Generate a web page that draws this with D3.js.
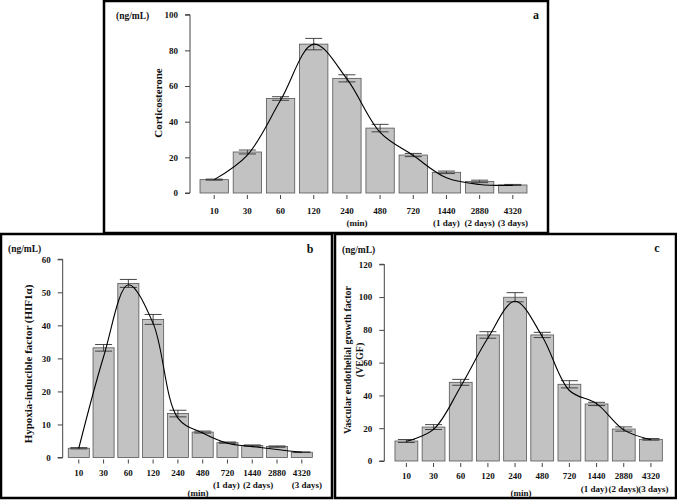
<!DOCTYPE html>
<html><head><meta charset="utf-8">
<script src="https://cdn.jsdelivr.net/npm/d3@7"></script>
<style>
body{margin:0;background:#fff;}
text{font-family:"Liberation Serif","Times New Roman",serif;font-weight:bold;fill:#111;}
</style></head>
<body><svg id="chart" width="677" height="500"></svg>
<script>
// ---- data ----
const categories = ["10","30","60","120","240","480","720","1440","2880","4320"];
const subLabels  = ["","","","","","","","(1 day)","(2 days)","(3 days)"];

const corticoMean = [7.5, 23, 53, 83.5, 64.3, 36.4, 21.3, 11.6, 6.5, 4.5];
const corticoErr  = [0.3, 1.1, 1.0, 3.2, 2.0, 2.1, 0.9, 0.7, 0.7, 0.3];
const corticoFit  = [7.5, 21.3, 52, 83.5, 64, 34, 21, 8.5, 4.8, 4.3];
const corticoTicks = [0, 20, 40, 60, 80, 100];

const hifMean = [2.8, 33.2, 52.7, 41.8, 13.3, 7.7, 4.5, 3.6, 3.3, 1.6];
const hifErr  = [0.2, 1.0, 1.2, 1.5, 1.0, 0.3, 0.2, 0.2, 0.2, 0.1];
const hifFit  = [2.8, 30.5, 52.3, 40.6, 11.9, 7.4, 4.3, 3.3, 2.4, 1.6];
const hifTicks = [0, 10, 20, 30, 40, 50, 60];

const vegfMean = [12.2, 20.7, 48, 76.9, 99.9, 76.9, 46.8, 34.8, 19.5, 13.2];
const vegfErr  = [0.9, 1.5, 1.8, 2.0, 2.8, 1.6, 2.2, 1.0, 1.3, 0.5];
const vegfFit  = [12, 19.3, 45.5, 75, 97.5, 76, 43, 35, 19, 13];
const vegfTicks = [0, 20, 40, 60, 80, 100, 120];

const svg = d3.select("#chart");
const TICK_FS = 9;

function drawPanel(p) {
  const g = svg.append("g");
  g.append("rect").attr("x", p.frame[0]).attr("y", p.frame[1])
    .attr("width", p.frame[2]-p.frame[0]).attr("height", p.frame[3]-p.frame[1])
    .attr("fill", "none").attr("stroke", "#000").attr("stroke-width", 2.5);

  const x = d3.scaleBand().domain(categories).range(p.xRange)
    .paddingInner(p.pad).paddingOuter(p.pad/2);
  const y = d3.scaleLinear().domain([0, p.ticks[p.ticks.length-1]]).range(p.yRange);

  const ya = g.append("g").attr("transform", `translate(${p.axisX},0)`)
    .call(d3.axisLeft(y).tickValues(p.ticks).tickSize(5).tickPadding(7));
  ya.select(".domain").attr("stroke", "#444").attr("d", `M-5,${y(0)}H0V${y(p.ticks[p.ticks.length-1])}H-5`);
  ya.selectAll(".tick line").attr("stroke", "#444");
  ya.selectAll(".tick text").attr("font-size", TICK_FS).style("font-family","Liberation Serif").style("font-weight","bold").attr("fill","#111");

  const data = categories.map((c,i)=>({c, i, m:p.mean[i], e:p.err[i], f:p.fit[i], s:subLabels[i]}));
  const cx = d => x(d.c) + x.bandwidth()/2;

  g.selectAll(".bar").data(data).join("rect")
    .attr("x", d=>x(d.c)).attr("width", x.bandwidth())
    .attr("y", d=>y(d.m)).attr("height", d=>y(0)-y(d.m))
    .attr("fill", "#c2c2c2").attr("stroke", "#555").attr("stroke-width", 0.8);

  const cap = 8.5;
  const eg = g.append("g").attr("stroke", "#333").attr("stroke-width", 0.9).attr("fill","none");
  data.forEach(d=>{
    const c = cx(d);
    eg.append("path").attr("d",
      `M${c},${y(d.m+d.e)}V${y(d.m-d.e)}M${c-cap},${y(d.m+d.e)}H${c+cap}M${c-cap},${y(d.m-d.e)}H${c+cap}`);
  });

  const base = y(0);
  g.selectAll(".xt").data(data).join("line")
    .attr("x1", cx).attr("x2", cx)
    .attr("y1", base+2).attr("y2", base+6).attr("stroke", "#444");
  g.selectAll(".xl").data(data).join("text")
    .attr("x", cx).attr("y", p.lab1)
    .attr("text-anchor","middle").attr("font-size", TICK_FS).text(d=>d.c);
  g.selectAll(".xl2").data(data.filter(d=>d.s)).join("text")
    .attr("x", (d,k)=>cx(d) + p.subDx[k]).attr("y", p.lab2)
    .attr("text-anchor","middle").attr("font-size", TICK_FS).text(d=>d.s);
  g.append("text").attr("x", p.minPos[0]).attr("y", p.minPos[1])
    .attr("text-anchor","middle").attr("font-size", TICK_FS).text("(min)");

  const line = d3.line().x(cx).y(d=>y(d.f)).curve(d3.curveCatmullRom.alpha(0.5));
  g.append("path").datum(data).attr("d", line).attr("fill","none").attr("stroke","#000").attr("stroke-width",1.1);

  g.append("text").attr("x", p.unitPos[0]).attr("y", p.unitPos[1]).attr("font-size", 9.5).text("(ng/mL)");
  g.append("text").attr("x", p.letterPos[0]).attr("y", p.letterPos[1]).attr("font-size", 12).attr("text-anchor","middle").text(p.letter);
  p.title.forEach((t,i)=>{
    g.append("text").attr("transform", `translate(${p.titlePos[0]+i*p.titleGap},${p.titlePos[1]}) rotate(-90)`)
      .attr("text-anchor","middle").attr("font-size", p.titleSize).text(t);
  });
}

drawPanel({
  frame:[104,1,548,233], xRange:[197.6,529.4], pad:0.146, yRange:[193,14.7], axisX:190,
  ticks:corticoTicks, mean:corticoMean, err:corticoErr, fit:corticoFit,
  lab1:214, lab2:226, subDx:[0,0,0], minPos:[357,226], unitPos:[116,19], letterPos:[536,19], letter:"a",
  title:["Corticosterone"], titlePos:[162,103], titleSize:11, titleGap:0
});
drawPanel({
  frame:[1,234,332,498], xRange:[66.4,314.2], pad:0.15, yRange:[457.5,259.3], axisX:62.7,
  ticks:hifTicks, mean:hifMean, err:hifErr, fit:hifFit,
  lab1:475.5, lab2:488, subDx:[-26,-19,5], minPos:[198,496], unitPos:[8,252], letterPos:[310,253], letter:"b",
  title:["Hypoxia-inducible factor (HIF1\u03b1)"], titlePos:[32,364], titleSize:11, titleGap:0
});
drawPanel({
  frame:[335,234,676,498], xRange:[392.8,664.5], pad:0.16, yRange:[461,264.3], axisX:384.3,
  ticks:vegfTicks, mean:vegfMean, err:vegfErr, fit:vegfFit,
  lab1:479, lab2:491.5, subDx:[-2.5,0,2.5], minPos:[521,496], unitPos:[342,253], letterPos:[657,252], letter:"c",
  title:["Vascular endothelial growth factor","(VEGF)"], titlePos:[351,360], titleSize:10, titleGap:11.5
});
</script></body></html>
